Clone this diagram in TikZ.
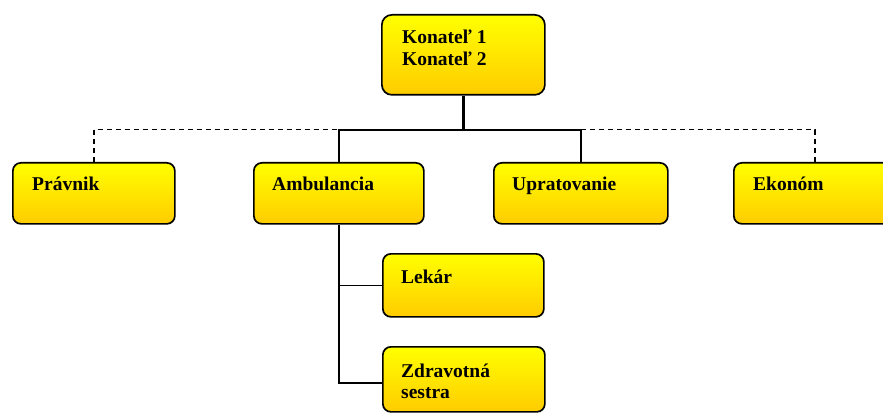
\documentclass[tikz,border=0pt]{standalone}
\usepackage{fontspec}
\setmainfont{Liberation Serif}
\usetikzlibrary{calc}
\definecolor{boxtop}{RGB}{255,255,0}
\definecolor{boxbot}{RGB}{255,204,0}
\begin{document}
\begin{tikzpicture}[x=1pt,y=-1pt,
  box/.style={draw=black, line width=1.7pt, rounded corners=8pt, top color=boxtop, bottom color=boxbot,
    anchor=north west, inner sep=0pt, minimum width=#1},
  box/.default=162pt,
  lbl/.style={anchor=base west, inner sep=0pt, font=\fontsize{19.5}{22}\selectfont\bfseries},
  conn/.style={draw=black, line width=2.3pt},
  thin/.style={draw=black, line width=1.4pt},
  dconn/.style={draw=black, line width=1.6pt, dash pattern=on 5pt off 4pt}]
\clip (0,0) rectangle (883,414);
\useasboundingbox (0,0) rectangle (883,414);
% boxes
\node[box=163pt, minimum height=80pt, rounded corners=10pt] (kon) at (381,14) {};
\node[box=162pt, minimum height=61pt] (prav) at (12,162) {};
\node[box=170pt, minimum height=61pt] (amb) at (253,162) {};
\node[box=174pt, minimum height=61pt] (upr) at (493,162) {};
\node[box=162pt, minimum height=61pt] (eko) at (733,162) {};
\node[box=161pt, minimum height=63pt] (lek) at (382,253) {};
\node[box=162pt, minimum height=65pt] (zdr) at (382,346) {};
% labels
\node[lbl] (t1) at ($(kon.north west)+(21,30)$) {Konateľ 1};
\node[lbl] (t2) at ($(kon.north west)+(21,52)$) {Konateľ 2};
\node[lbl] (t3) at ($(prav.north west)+(20,29)$) {Právnik};
\node[lbl] (t4) at ($(amb.north west)+(19,29)$) {Ambulancia};
\node[lbl] (t5) at ($(upr.north west)+(19,29)$) {Upratovanie};
\node[lbl] (t6) at ($(eko.north west)+(20,29)$) {Ekonóm};
\node[lbl] (t7) at ($(lek.north west)+(19,30)$) {Lekár};
\node[lbl] (t8) at ($(zdr.north west)+(19,31)$) {Zdravotná};
\node[lbl] (t9) at ($(zdr.north west)+(19,52)$) {sestra};
% connectors
\coordinate (bar) at ($(kon.south)+(0,34)$);
\draw[conn] (kon.south) -- (bar);
\draw[conn] (amb.north) -- (amb.north |- bar) -- (upr.north |- bar) -- (upr.north);
\draw[dconn] (prav.north) -- (prav.north |- bar) -- (amb.north |- bar);
\draw[dconn] (upr.north |- bar) -- (eko.north |- bar) -- (eko.north);
\coordinate (lj) at (lek.west);
\coordinate (zj) at ($(zdr.north west)+(0,37)$);
\draw[conn] (amb.south) -- (amb.south |- lj);
\draw[thin] (amb.south) |- (lj);
\draw[thin] (amb.south) |- (zj);
\end{tikzpicture}
\end{document}
